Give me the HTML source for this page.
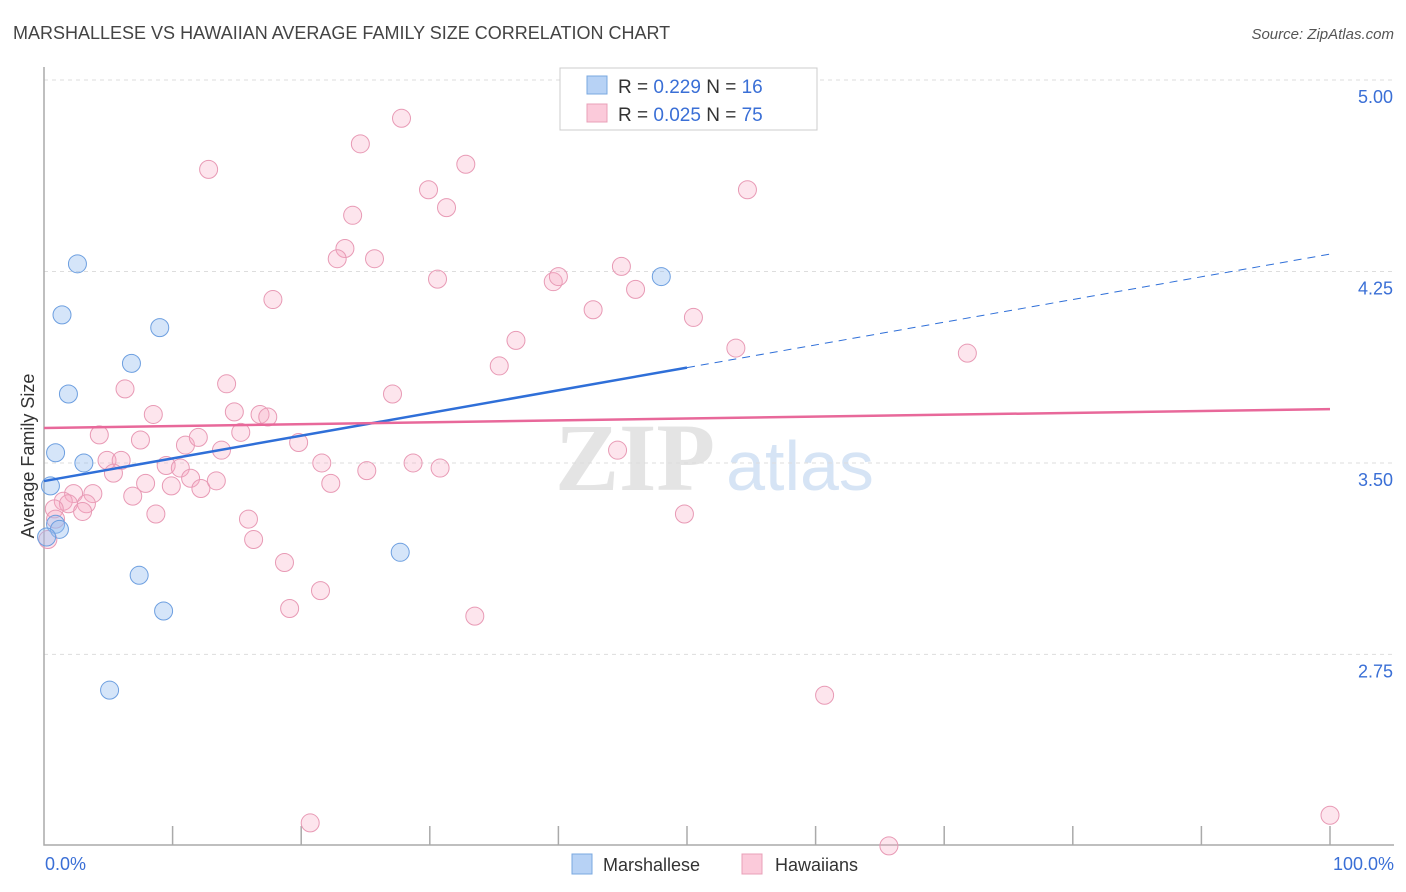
<!DOCTYPE html>
<html><head><meta charset="utf-8"><style>
body{margin:0;background:#fff;font-family:"Liberation Sans",sans-serif;}
svg{display:block}
</style></head><body>
<svg id="chart" width="1406" height="892">
<text x="13" y="39" font-size="18" fill="#444">MARSHALLESE VS HAWAIIAN AVERAGE FAMILY SIZE CORRELATION CHART</text>
<text x="1394" y="39" font-size="15" fill="#555" font-style="italic" text-anchor="end">Source: ZipAtlas.com</text>
<text x="635" y="490" font-size="96" fill="#e4e4e4" font-family="Liberation Serif" font-weight="bold" text-anchor="middle">ZIP</text>
<text x="800" y="490" font-size="70" fill="#d6e4f5" text-anchor="middle">atlas</text>
<g id="grid"></g><g id="axes"></g><g id="pts"></g><g id="trend"></g>
<text transform="translate(34,456) rotate(-90)" font-size="18" fill="#333" text-anchor="middle">Average Family Size</text>
<g>
<rect x="560" y="68" width="257" height="62" fill="#fff" stroke="#ccc"/>
<rect x="587" y="76" width="20" height="18" fill="#b7d2f5" stroke="#7aa8e0"/>
<rect x="587" y="104" width="20" height="18" fill="#fbcada" stroke="#e8a0b8"/>
<text x="618" y="93" font-size="19" fill="#333">R = <tspan fill="#3a6fd6">0.229</tspan>   N = <tspan fill="#3a6fd6">16</tspan></text>
<text x="618" y="121" font-size="19" fill="#333">R = <tspan fill="#3a6fd6">0.025</tspan>   N = <tspan fill="#3a6fd6">75</tspan></text>
</g>
<g>
<rect x="572" y="854" width="20" height="20" fill="#b7d2f5" stroke="#7aa8e0"/>
<text x="603" y="871" font-size="18" fill="#333">Marshallese</text>
<rect x="742" y="854" width="20" height="20" fill="#fbcada" stroke="#e8a0b8"/>
<text x="775" y="871" font-size="18" fill="#333">Hawaiians</text>
</g>
</svg>
<script>
const yTicks=[5.00,4.25,3.50,2.75];
const xTickLabels=["0.0%","100.0%"];
const marshX=[2.6,1.4,9.0,6.8,1.9,0.9,3.1,0.5,0.9,1.2,0.2,7.4,9.3,5.1,27.7,48.0];
const marshY=[4.28,4.08,4.03,3.89,3.77,3.54,3.50,3.41,3.26,3.24,3.21,3.06,2.92,2.61,3.15,4.23];
const hawX=[12.8,24.6,27.8,32.8,29.9,31.3,24.0,54.7,23.4,22.8,25.7,30.6,39.6,40.0,44.9,46.0,17.8,42.7,50.5,36.7,53.8,71.8,35.4,6.3,14.2,27.1,8.5,14.8,16.8,17.4,15.3,4.3,7.5,19.8,11.0,12.0,13.8,4.9,6.0,9.5,10.6,21.6,28.7,30.8,44.6,5.4,11.4,7.9,9.9,12.2,13.4,22.3,25.1,2.3,3.8,6.9,1.5,3.3,1.9,0.8,3.0,8.7,15.9,49.8,0.9,16.3,18.7,21.5,19.1,33.5,60.7,20.7,65.7,100,0.3];
const hawY=[4.65,4.75,4.85,4.67,4.57,4.50,4.47,4.57,4.34,4.30,4.30,4.22,4.21,4.23,4.27,4.18,4.14,4.10,4.07,3.98,3.95,3.93,3.88,3.79,3.81,3.77,3.69,3.70,3.69,3.68,3.62,3.61,3.59,3.58,3.57,3.60,3.55,3.51,3.51,3.49,3.48,3.50,3.50,3.48,3.55,3.46,3.44,3.42,3.41,3.40,3.43,3.42,3.47,3.38,3.38,3.37,3.35,3.34,3.34,3.32,3.31,3.30,3.28,3.30,3.28,3.20,3.11,3.00,2.93,2.90,2.59,2.09,2.00,2.12,3.20];
const blueTrend=[3.429,4.318], pinkTrend=[3.637,3.711];
const NS="http://www.w3.org/2000/svg";
const X0=44,X1=1330,YTOP=80,PXU=255.3;
const sx=v=>X0+(X1-X0)*v/100, sy=v=>YTOP+(5-v)*PXU;
function mk(tag,attrs,parent){const e=document.createElementNS(NS,tag);for(const k in attrs)e.setAttribute(k,attrs[k]);parent.appendChild(e);return e;}
const grid=document.getElementById('grid'),axes=document.getElementById('axes'),pts=document.getElementById('pts'),trend=document.getElementById('trend');
yTicks.forEach(t=>{
 const l=mk('line',{x1:X0,x2:1394,y1:sy(t),y2:sy(t),stroke:'#ddd','stroke-dasharray':'4,4'},grid);
 
 
 const tx=mk('text',{x:1393,y:sy(t)+23,'font-size':18,fill:'#3a6fd6','text-anchor':'end'},grid);
 tx.textContent=t.toFixed(2);
 
 
});
const ax=mk('path',{d:`M${X0} 67 V845 H1394`,stroke:'#aaa',fill:'none','stroke-width':1.5},axes);


for(let i=1;i<=10;i++){const t=mk('line',{x1:sx(i*10),x2:sx(i*10),y1:826,y2:845,stroke:'#aaa','stroke-width':1.5},axes);
 
 }
[[0,'start',45],[100,'end',1394]].forEach((a,i)=>{const t=mk('text',{x:a[2],y:870,'font-size':18,fill:'#3a6fd6','text-anchor':a[1]},axes);t.textContent=xTickLabels[i];
 
 });
hawX.forEach((x,i)=>{const c=mk('circle',{cx:sx(x),cy:sy(hawY[i]),r:9,fill:'rgba(248,170,195,0.3)',stroke:'#e89ab5','stroke-width':1},pts);
 
 });
marshX.forEach((x,i)=>{const c=mk('circle',{cx:sx(x),cy:sy(marshY[i]),r:9,fill:'rgba(150,190,240,0.4)',stroke:'#6d9fe0','stroke-width':1},pts);
 
 });
const by=v=>blueTrend[0]+(blueTrend[1]-blueTrend[0])*v/100;
const b1=mk('line',{x1:sx(0),y1:sy(by(0)),x2:sx(50),y2:sy(by(50)),stroke:'#2f6fd8','stroke-width':2.5},trend);


const b2=mk('line',{x1:sx(50),y1:sy(by(50)),x2:sx(100),y2:sy(by(100)),stroke:'#2f6fd8','stroke-width':1,'stroke-dasharray':'8,6'},trend);


const p1=mk('line',{x1:sx(0),y1:sy(pinkTrend[0]),x2:sx(100),y2:sy(pinkTrend[1]),stroke:'#e8689a','stroke-width':2.5},trend);


</script>
</body></html>
